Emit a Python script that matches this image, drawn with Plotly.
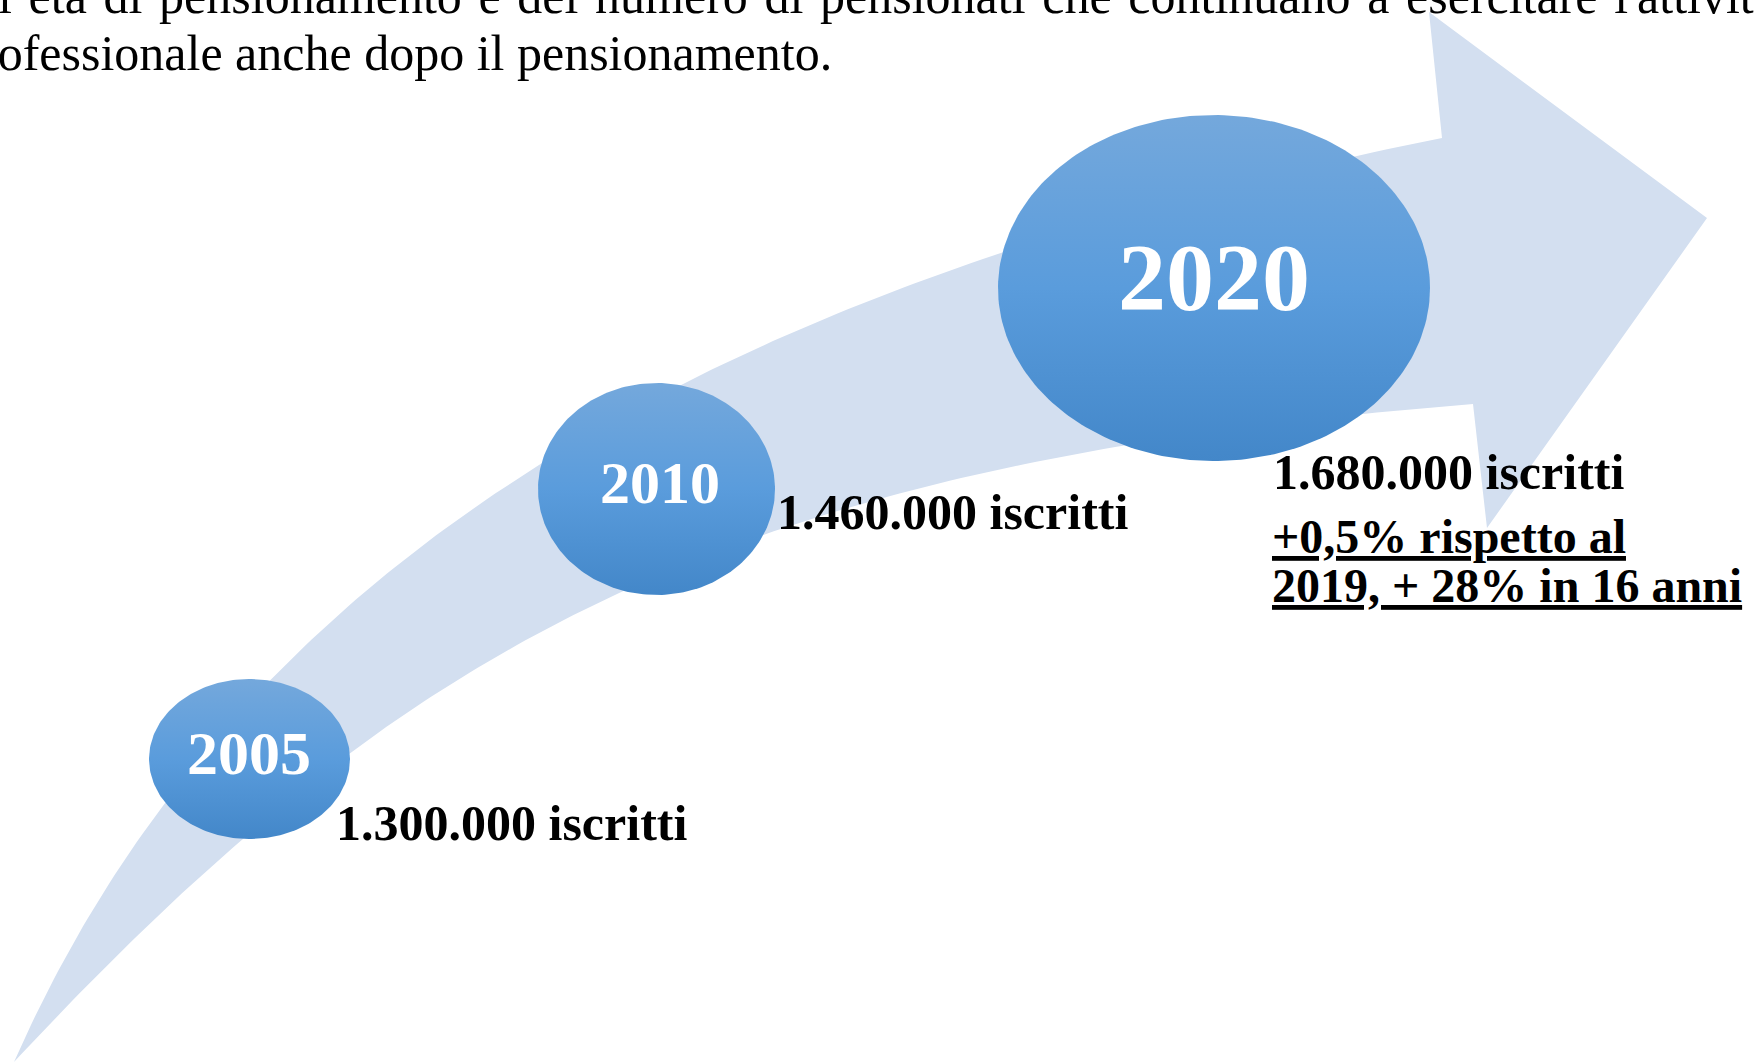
import numpy as np
import plotly.graph_objects as go

# ---------------- data ----------------
years = ["2005", "2010", "2020"]
iscritti = [1300000, 1460000, 1680000]
note_lines = ["+0,5% rispetto al", "2019, + 28% in 16 anni"]
intro_lines = [
    "di età di pensionamento e del numero di pensionati che continuano a esercitare l'attività",
    "professionale anche dopo il pensionamento.",
]

# ---------------- layout geometry (pixel space) ----------------
W, H = 1754, 1062
ell_center = [(249.5, 759), (656.5, 489), (1214, 288)]
ell_radius = [(100.5, 80), (118.5, 106), (216, 173)]
year_text_pos = [(249, 753), (660, 483), (1214, 277)]
year_font = [62, 60, 96]
label_pos = [(334, 823), (775, 512), (1271, 472)]
note_pos = [(1270, 536), (1270, 585)]

SERIF = "Liberation Serif"
BAND = "#d3dff0"


def bezier(p0, p1, p2, p3, n=160):
    t = np.linspace(0, 1, n)[:, None]
    p0, p1, p2, p3 = map(np.array, (p0, p1, p2, p3))
    return (1 - t) ** 3 * p0 + 3 * (1 - t) ** 2 * t * p1 + 3 * (1 - t) * t ** 2 * p2 + t ** 3 * p3


upper = bezier((14, 1062), (234, 562), (707, 285), (1442, 138))
lower = bezier((14, 1062), (408, 639), (725, 464), (1473, 404))
head = np.array([(1429, 12), (1707, 218), (1487, 528)])
poly = np.vstack([upper, head, lower[::-1]])

fig = go.Figure()
fig.add_trace(go.Scatter(
    x=poly[:, 0], y=poly[:, 1], mode="lines", fill="toself",
    fillcolor=BAND, line=dict(width=0, color=BAND), hoverinfo="skip", showlegend=False,
))

theta = np.linspace(0, 2 * np.pi, 240)
for (cx, cy), (rx, ry) in zip(ell_center, ell_radius):
    fig.add_trace(go.Scatter(
        x=cx + rx * np.cos(theta), y=cy + ry * np.sin(theta),
        mode="lines", fill="toself",
        fillgradient=dict(type="vertical",
                          colorscale=[[0, "#4387c9"], [0.5, "#5a9cdc"], [1, "#74a8dc"]]),
        line=dict(width=0, color="#5a9cdc"), hoverinfo="skip", showlegend=False,
    ))

ann = []
for yr, (x, y), fs in zip(years, year_text_pos, year_font):
    ann.append(dict(x=x, y=y, text=f"<b>{yr}</b>", showarrow=False, xanchor="center", yanchor="middle",
                    font=dict(family=SERIF, size=fs, color="white")))

for v, (x, y) in zip(iscritti, label_pos):
    txt = f"{v:,}".replace(",", ".") + " iscritti"
    ann.append(dict(x=x, y=y, text=f"<b>{txt}</b>", showarrow=False, xanchor="left", yanchor="middle",
                    font=dict(family=SERIF, size=50, color="black")))

for line, (x, y) in zip(note_lines, note_pos):
    ann.append(dict(x=x, y=y, text=f"<b><u>{line}</u></b>", showarrow=False, xanchor="left", yanchor="middle",
                    font=dict(family=SERIF, size=48, color="black")))

# intro paragraph (cropped at the page edges); first line is justified -> slightly wider spaces
justified = intro_lines[0].replace(" ", " \u200a")
ann.append(dict(x=0, y=26, text=justified, showarrow=False, xanchor="left", yanchor="bottom",
                xshift=-29, font=dict(family=SERIF, size=50, color="black")))
ann.append(dict(x=0, y=53, text=intro_lines[1], showarrow=False, xanchor="left", yanchor="middle",
                xshift=-46, font=dict(family=SERIF, size=50, color="black")))

fig.update_layout(
    width=W, height=H, margin=dict(l=0, r=0, t=0, b=0),
    paper_bgcolor="white", plot_bgcolor="white",
    xaxis=dict(range=[0, W], visible=False, fixedrange=True),
    yaxis=dict(range=[H, 0], visible=False, fixedrange=True),
    annotations=ann, showlegend=False, hovermode=False,
)
fig.write_html("out.html", config={"displayModeBar": False},
               post_script="document.body.style.margin='0';document.body.style.overflow='hidden';")
